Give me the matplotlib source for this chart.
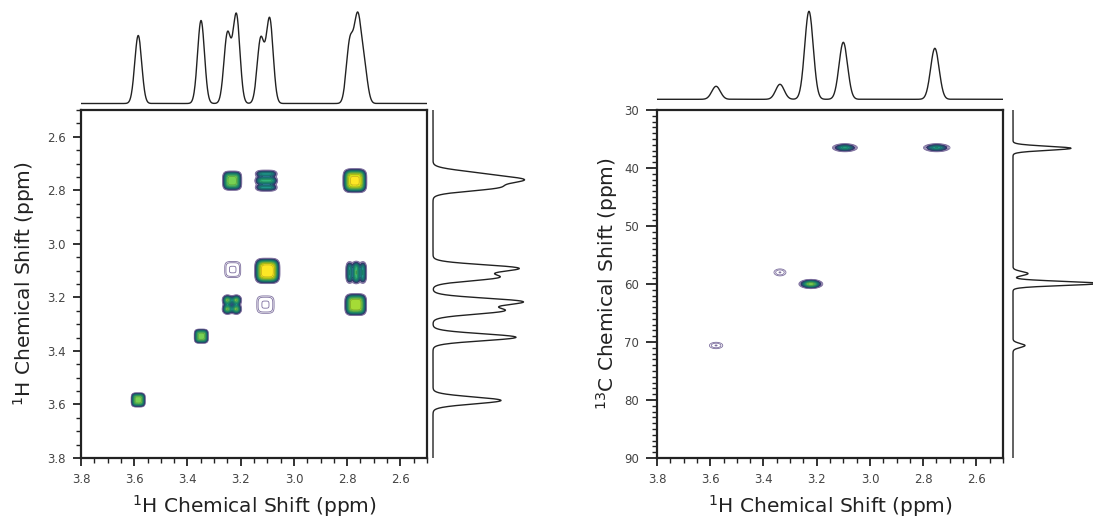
import numpy as np
import matplotlib
matplotlib.use("Agg")
import matplotlib.pyplot as plt
from matplotlib.ticker import MultipleLocator

# ---------------- data ----------------
# 1H 1D spectrum: line positions (ppm) and heights
h1_shift = [3.585, 3.349, 3.250, 3.216, 3.125, 3.091, 2.790, 2.761, 2.737]
h1_height = [68, 83, 69, 88, 64, 84, 60, 80, 36]

# COSY cross / diagonal peaks (F2 = horizontal, F1 = vertical)
cosy_f2 = [3.232, 3.104, 2.771, 3.230, 3.100, 2.766, 3.233, 3.107, 2.768, 3.348, 3.585]
cosy_f1 = [2.764, 2.764, 2.764, 3.096, 3.101, 3.107, 3.227, 3.227, 3.227, 3.345, 3.583]
cosy_amp = [0.55, 0.40, 0.90, 0.075, 1.00, 0.42, 0.65, 0.075, 0.70, 0.55, 0.55]
cosy_span = [0.072, 0.086, 0.090, 0.060, 0.095, 0.085, 0.080, 0.065, 0.082, 0.053, 0.053]
cosy_lines_f2 = [1, 1, 1, 1, 1, 3, 2, 1, 1, 1, 1]
cosy_lines_f1 = [1, 3, 1, 1, 1, 1, 2, 1, 1, 1, 1]

# HSQC peaks (1H, 13C)
hsqc_h = [3.094, 2.749, 3.222, 3.338, 3.578]
hsqc_c = [36.5, 36.5, 60.0, 58.0, 70.6]
hsqc_amp = [0.32, 0.30, 0.60, 0.075, 0.075]
hsqc_span_h = [0.094, 0.100, 0.090, 0.045, 0.050]
hsqc_span_c = [1.4, 1.4, 1.6, 1.2, 1.1]

# HSQC projections
hsqc_proj_h_shift = [3.578, 3.338, 3.229, 3.100, 2.756]
hsqc_proj_h_height = [13, 15, 88, 57, 51]
c13_shift = [36.6, 58.2, 59.9, 70.6]
c13_height = [58, 15, 86, 12]

h_ticks = [3.8, 3.6, 3.4, 3.2, 3.0, 2.8, 2.6]
h_ticklabels = ["3.8", "3.6", "3.4", "3.2", "3.0", "2.8", "2.6"]
cosy_yticks = [2.6, 2.8, 3.0, 3.2, 3.4, 3.6, 3.8]
c_ticks = [30, 40, 50, 60, 70, 80, 90]

# ---------------- helpers ----------------
H_LIM = (3.8, 2.5)
C_LIM = (90, 30)
LOW = 0.04          # lowest contour level
FILL = 0.10         # start of filled contours

line_levels = np.geomspace(LOW, FILL, 4)[:-1]
fill_levels = np.geomspace(FILL, 1.02, 14)
vir = plt.get_cmap("viridis")
fill_colors = vir(np.linspace(0.18, 1.0, len(fill_levels) - 1))
edge_colors = fill_colors * [0.75, 0.75, 0.75, 1]
line_color = "#7d6f9e"


def spectrum(x, centers, heights, sigma):
    y = np.zeros_like(x)
    for c, h in zip(centers, heights):
        y += h * np.exp(-0.5 * ((x - c) / sigma) ** 2)
    return y


def profile(d, span, n, amp):
    """Square-ish line profile with optional resolved multiplet lines."""
    w = (span / 2) / max(np.log(amp / LOW), 0.3) ** 0.25
    env = np.exp(-(np.abs(d) / w) ** 4)
    if n > 1:
        mod = 0.5 + 0.5 * np.cos(2 * np.pi * n * d / span + np.pi * (n - 1))
        env = env * (1 - 0.55 * (1 - mod))
    return env


def draw_map(ax, X, Y, Z):
    ax.contour(X, Y, Z, levels=line_levels, colors=line_color, linewidths=0.6)
    ax.contourf(X, Y, Z, levels=fill_levels, colors=fill_colors)
    ax.contour(X, Y, Z, levels=fill_levels[:-1], colors=edge_colors, linewidths=0.5)


fig = plt.figure(figsize=(10.93, 5.20), dpi=100)
W, H = 1093.0, 520.0


def add_ax(x0, y0, x1, y1):
    return fig.add_axes([x0 / W, 1 - y1 / H, (x1 - x0) / W, (y1 - y0) / H])


tick_kw = dict(labelsize=8.5, labelcolor="#444444", color="#222222", pad=5)
label_kw = dict(fontsize=14.5, color="#222222")


def style_main(ax):
    for s in ax.spines.values():
        s.set_linewidth(1.6)
        s.set_color("#222222")
    ax.tick_params(which="major", direction="out", length=6, width=1.3, **tick_kw)
    ax.tick_params(which="minor", direction="out", length=3.5, width=1.0, color="#222222")


def proj_ax(ax):
    ax.set_axis_off()


# ---------------- COSY ----------------
ax1 = add_ax(81, 110, 427, 458)
gx = np.linspace(2.5, 3.8, 800)
gy = np.linspace(2.5, 3.8, 800)
X, Y = np.meshgrid(gx, gy)
Z = np.zeros_like(X)
for f2, f1, a, s, nx, ny in zip(cosy_f2, cosy_f1, cosy_amp, cosy_span, cosy_lines_f2, cosy_lines_f1):
    Z += a * profile(X - f2, s, nx, a) * profile(Y - f1, s, ny, a)
draw_map(ax1, X, Y, Z)
ax1.set_xlim(*H_LIM)
ax1.set_ylim(3.8, 2.5)
ax1.set_xticks(h_ticks)
ax1.set_xticklabels(h_ticklabels)
ax1.set_yticks(cosy_yticks)
ax1.set_yticklabels([f"{v:.1f}" for v in cosy_yticks])
ax1.xaxis.set_minor_locator(MultipleLocator(0.05))
ax1.yaxis.set_minor_locator(MultipleLocator(0.05))
style_main(ax1)
ax1.set_xlabel(r"$^{1}$H Chemical Shift (ppm)", **label_kw)
ax1.set_ylabel(r"$^{1}$H Chemical Shift (ppm)", **label_kw)
ax1.xaxis.set_label_coords(0.5, -0.100)
ax1.yaxis.set_label_coords(-0.128, 0.5)

hx = np.linspace(2.5, 3.8, 1500)
hy = spectrum(hx, h1_shift, h1_height, 0.013)

ax1t = add_ax(81, 6, 427, 106)
ax1t.plot(hx, hy, color="#222222", lw=1.0)
ax1t.set_xlim(*H_LIM)
ax1t.set_ylim(-2.5, 97.5)
proj_ax(ax1t)

ax1r = add_ax(430, 110, 530, 458)
ax1r.plot(hy, hx, color="#222222", lw=1.0)
ax1r.set_ylim(3.8, 2.5)
ax1r.set_xlim(-3, 97)
proj_ax(ax1r)

# ---------------- HSQC ----------------
ax2 = add_ax(657, 110, 1003, 458)
gx2 = np.linspace(2.5, 3.8, 800)
gc2 = np.linspace(30, 90, 800)
X2, C2 = np.meshgrid(gx2, gc2)
Z2 = np.zeros_like(X2)
for h, c, a, sh, sc in zip(hsqc_h, hsqc_c, hsqc_amp, hsqc_span_h, hsqc_span_c):
    k = np.sqrt(2 * np.log(a / LOW))
    sx, sy = (sh / 2) / k, (sc / 2) / k
    Z2 += a * np.exp(-0.5 * ((X2 - h) / sx) ** 2 - 0.5 * ((C2 - c) / sy) ** 2)
draw_map(ax2, X2, C2, Z2)
ax2.set_xlim(*H_LIM)
ax2.set_ylim(*C_LIM)
ax2.set_xticks(h_ticks)
ax2.set_xticklabels(h_ticklabels)
ax2.set_yticks(c_ticks)
ax2.set_yticklabels([str(v) for v in c_ticks])
ax2.xaxis.set_minor_locator(MultipleLocator(0.05))
ax2.yaxis.set_minor_locator(MultipleLocator(1))
style_main(ax2)
ax2.tick_params(axis="y", which="major", length=8)
ax2.set_xlabel(r"$^{1}$H Chemical Shift (ppm)", **label_kw)
ax2.set_ylabel(r"$^{13}$C Chemical Shift (ppm)", **label_kw)
ax2.xaxis.set_label_coords(0.5, -0.100)
ax2.yaxis.set_label_coords(-0.106, 0.5)

hy2 = spectrum(hx, hsqc_proj_h_shift, hsqc_proj_h_height, 0.016)
ax2t = add_ax(657, 2, 1003, 102)
ax2t.plot(hx, hy2, color="#222222", lw=1.0)
ax2t.set_xlim(*H_LIM)
ax2t.set_ylim(-2.7, 97.3)
proj_ax(ax2t)

cx = np.linspace(30, 90, 1500)
cy = spectrum(cx, c13_shift, c13_height, 0.35)
ax2r = add_ax(1010, 110, 1093, 458)
ax2r.plot(cy, cx, color="#222222", lw=1.0)
ax2r.set_ylim(*C_LIM)
ax2r.set_xlim(-3, 80)
proj_ax(ax2r)

fig.savefig("out.png", dpi=100)
